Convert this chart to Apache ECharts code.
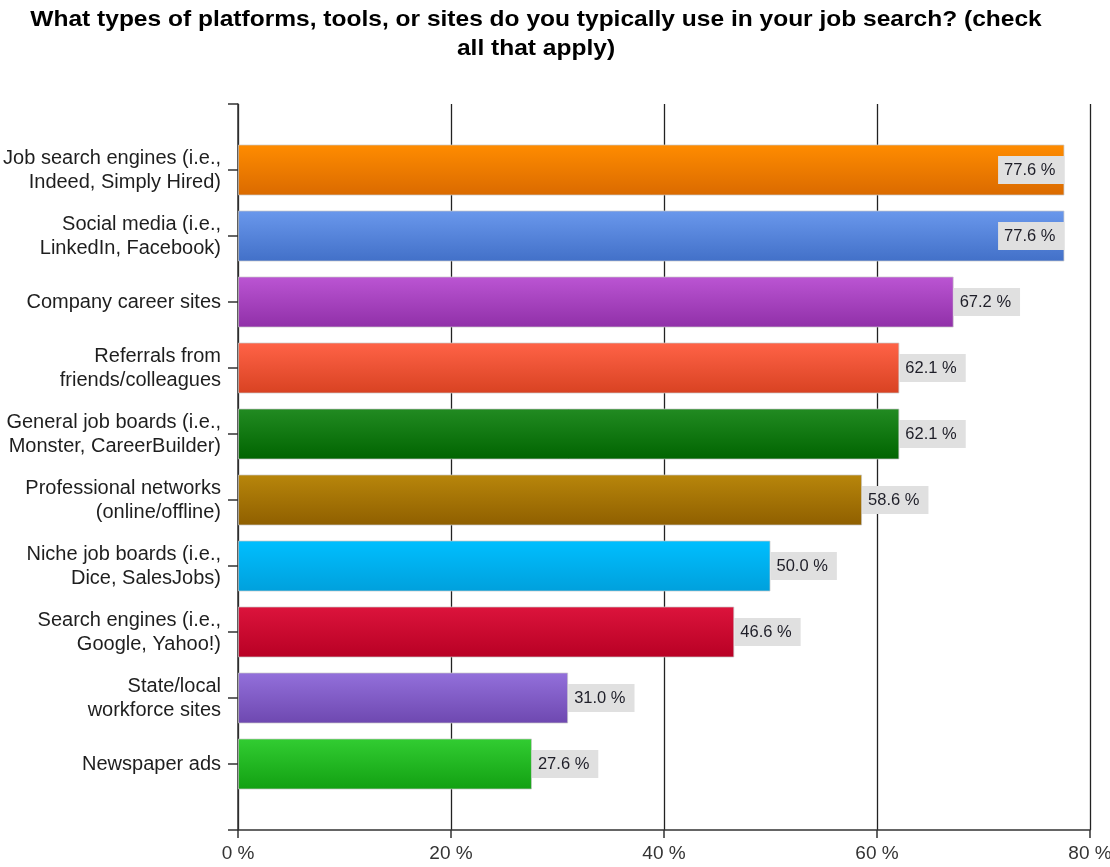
<!DOCTYPE html>
<html>
<head>
<meta charset="utf-8">
<script src="https://cdn.jsdelivr.net/npm/echarts@6/dist/echarts.min.js"></script>
<style>
  html, body { margin: 0; padding: 0; background: #fff; }
  #chart { width: 1110px; height: 867px; }
</style>
</head>
<body>
<div id="chart"></div>
<script>
// Survey answers, top to bottom
const categories = [
  'Job search engines (i.e.,\nIndeed, Simply Hired)',
  'Social media (i.e.,\nLinkedIn, Facebook)',
  'Company career sites',
  'Referrals from\nfriends/colleagues',
  'General job boards (i.e.,\nMonster, CareerBuilder)',
  'Professional networks\n(online/offline)',
  'Niche job boards (i.e.,\nDice, SalesJobs)',
  'Search engines (i.e.,\nGoogle, Yahoo!)',
  'State/local\nworkforce sites',
  'Newspaper ads'
];
// Share of respondents (%)
const values = [77.6, 77.6, 67.2, 62.1, 62.1, 58.6, 50.0, 46.6, 31.0, 27.6];
// Bar gradient colours (top, bottom)
const topColors = ['#ff8c00', '#6a98ec', '#bb55d3', '#ff6347', '#228b22', '#b8860b', '#00bfff', '#dc143c', '#9370db', '#32cd32'];
const bottomColors = ['#da6a00', '#4270c8', '#9030a8', '#d84222', '#006400', '#8f5f00', '#00a0dc', '#b80024', '#6e48b0', '#12a012'];
const xTicks = { min: 0, max: 80, step: 20 };

const chart = echarts.init(document.getElementById('chart'), null, { renderer: 'canvas' });

// Empty slots at both ends give the axis its margin above and below the bars
const axisCats = [''].concat(categories, ['']);
const barData = [null].concat(values.map((v, i) => ({
  value: v,
  itemStyle: {
    color: new echarts.graphic.LinearGradient(0, 0, 0, 1, [
      { offset: 0, color: topColors[i] },
      { offset: 1, color: bottomColors[i] }
    ])
  },
  label: v > 70 ? { position: 'insideRight', distance: 0 } : { position: 'right', distance: 0 }
})), [null]);

const textFont = '"Liberation Sans", Arial, sans-serif';

chart.setOption({
  animation: false,
  graphic: [{
    type: 'text',
    x: 536,
    y: 5,
    scaleX: 1.115,
    style: {
      text: 'What types of platforms, tools, or sites do you typically use in your job search? (check\nall that apply)',
      font: 'bold 22px ' + textFont,
      fill: '#000',
      textAlign: 'center',
      textVerticalAlign: 'top',
      lineHeight: 29
    }
  }],
  grid: { left: 238, right: 20, top: 104, bottom: 37, containLabel: false, outerBoundsMode: 'none' },
  xAxis: {
    type: 'value',
    min: xTicks.min,
    max: xTicks.max,
    interval: xTicks.step,
    axisLine: { show: true, lineStyle: { color: '#333', width: 1.5 } },
    axisTick: { show: true, length: 8, inside: false, lineStyle: { color: '#333', width: 1.5 } },
    splitLine: { show: true, lineStyle: { color: '#222', width: 1.3 } },
    axisLabel: {
      formatter: '{value} %',
      fontSize: 19,
      fontFamily: textFont,
      color: '#333',
      margin: 14,
      hideOverlap: false
    }
  },
  yAxis: {
    type: 'category',
    inverse: true,
    boundaryGap: false,
    data: axisCats,
    axisLine: { show: true, lineStyle: { color: '#333', width: 1.5 } },
    axisTick: { show: true, length: 10, inside: false, alignWithLabel: true, lineStyle: { color: '#333', width: 1.5 } },
    splitLine: { show: false },
    axisLabel: {
      fontSize: 20,
      fontFamily: textFont,
      color: '#1e1e1e',
      lineHeight: 24,
      margin: 17,
      align: 'right'
    }
  },
  series: [{
    type: 'bar',
    data: barData,
    barWidth: 51,
    itemStyle: { borderColor: 'rgba(200,200,200,0.7)', borderWidth: 1 },
    label: {
      show: true,
      formatter: p => p.value.toFixed(1) + ' %',
      fontSize: 16.5,
      fontFamily: textFont,
      color: '#1e1e28',
      backgroundColor: '#e0e0e0',
      padding: [5, 9, 4, 6],
      lineHeight: 19
    }
  }]
});
</script>
</body>
</html>
